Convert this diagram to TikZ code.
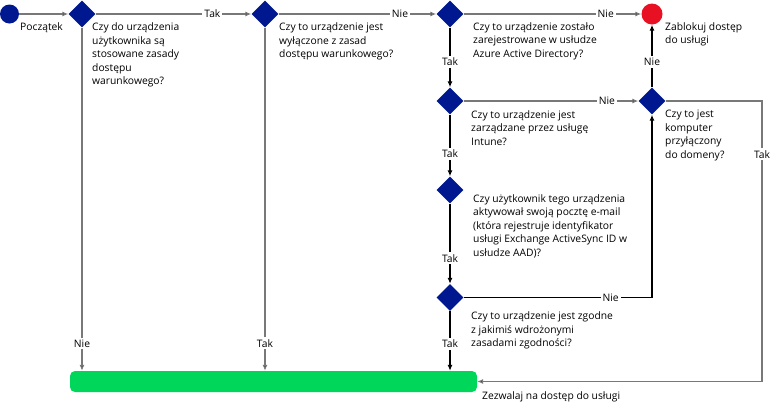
\documentclass[tikz,border=0pt]{standalone}
\usepackage{fontspec}
\setmainfont{Open Sans}
\usetikzlibrary{shapes.geometric,arrows.meta,positioning}
\definecolor{navy}{RGB}{0,24,143}
\definecolor{blockred}{RGB}{232,17,35}
\definecolor{allowgreen}{RGB}{0,214,90}
\definecolor{linegray}{RGB}{120,120,120}
% diamond with its question text
\newcommand{\Decision}[6]{
	\node[decision] (#1) at (#2,#3) {};
	\node[question] (#1-text) at (#4,#5) {#6};
}

\begin{document}
\begin{tikzpicture}[x=1pt,y=-1pt,
	decision/.style={diamond,fill=navy,inner sep=0,minimum width=27pt,minimum height=27pt},
	question/.style={anchor=north west,align=left,inner sep=0,font=\fontsize{10.3}{13.5}\selectfont},
	tag/.style={fill=white,inner sep=2pt,font=\fontsize{10.3}{12}\selectfont},
	flow/.style={draw=linegray,line width=1.1pt,-{Latex[length=6pt,width=5pt,fill=black]}},
	flowblack/.style={flow,draw=black},
	plain/.style={draw=linegray,line width=1.1pt}]
	\useasboundingbox (0,0) rectangle (771,416);

	\node[circle,fill=navy,minimum size=19pt,inner sep=0] (start) at (9.5,14) {};
	\node[question] (start-text) at (20,22) {Początek};

	\Decision{q1}{82}{14}{92}{22.5}{Czy do urządzenia\\użytkownika są\\stosowane zasady\\dostępu\\warunkowego?}
	\Decision{q2}{265}{14}{279}{22.5}{Czy to urządzenie jest\\wyłączone z zasad\\dostępu warunkowego?}
	\Decision{q3}{450}{14}{473}{22}{Czy to urządzenie zostało\\zarejestrowane w usłudze\\Azure Active Directory?}
	\Decision{q4}{450}{101}{471}{110}{Czy to urządzenie jest\\zarządzane przez usługę\\Intune?}
	\Decision{q5}{652}{101}{665}{110}{Czy to jest\\komputer\\przyłączony\\do domeny?}
	\Decision{q6}{450}{190}{473}{194}{Czy użytkownik tego urządzenia\\aktywował swoją pocztę e-mail\\(która rejestruje identyfikator\\usługi Exchange ActiveSync ID w\\usłudze AAD)?}
	\Decision{q7}{450}{297.5}{471}{311.5}{Czy to urządzenie jest zgodne\\z jakimiś wdrożonymi\\zasadami zgodności?}

	\node[circle,fill=blockred,minimum size=21pt,inner sep=0] (block) at (652,14) {};
	\node[question] (block-text) at (665,22) {Zablokuj dostęp\\do usługi};

	\node[fill=allowgreen,rounded corners=5pt,minimum width=407pt,minimum height=21pt,inner sep=0] (allow) at (273.5,381.5) {};
	\node[question] (allow-text) at (482,391) {Zezwalaj na dostęp do usługi};

	\coordinate (rt) at (762,101);
	\coordinate (rb) at (762,381.5);

	\draw[flow] (start) -- (q1);
	\draw[flow] (q1) -- node[tag,pos=0.75] {Tak} (q2);
	\draw[flow] (q2) -- node[tag,pos=0.77] {Nie} (q3);
	\draw[flow] (q3) -- node[tag,pos=0.8] {Nie} (block);
	\draw[flow] (q4) -- node[tag,pos=0.82] {Nie} (q5);
	\draw[flowblack] (q3) -- node[tag,pos=0.57] {Tak} (q4);
	\draw[flowblack] (q4) -- node[tag,pos=0.64] {Tak} (q6);
	\draw[flowblack] (q6) -- node[tag,pos=0.68] {Tak} (q7);
	\draw[flowblack] (q7) -- node[tag,pos=0.55] {Tak} (q7 |- allow.north);
	\draw[flow] (q1) -- node[tag,pos=0.92] {Nie} (q1 |- allow.north);
	\draw[flow] (q2) -- node[tag,pos=0.92] {Tak} (q2 |- allow.north);
	\draw[flowblack] (q5) -- node[tag,pos=0.4] {Nie} (block);
	\draw[flowblack] (q7) -- node[tag,pos=0.78] {Nie} (q7 -| q5) -- (q5);
	\draw[flow] (q5) -- (rt) -- node[tag,pos=0.19] {Tak} (rb) -- (allow.east);
\end{tikzpicture}
\end{document}
